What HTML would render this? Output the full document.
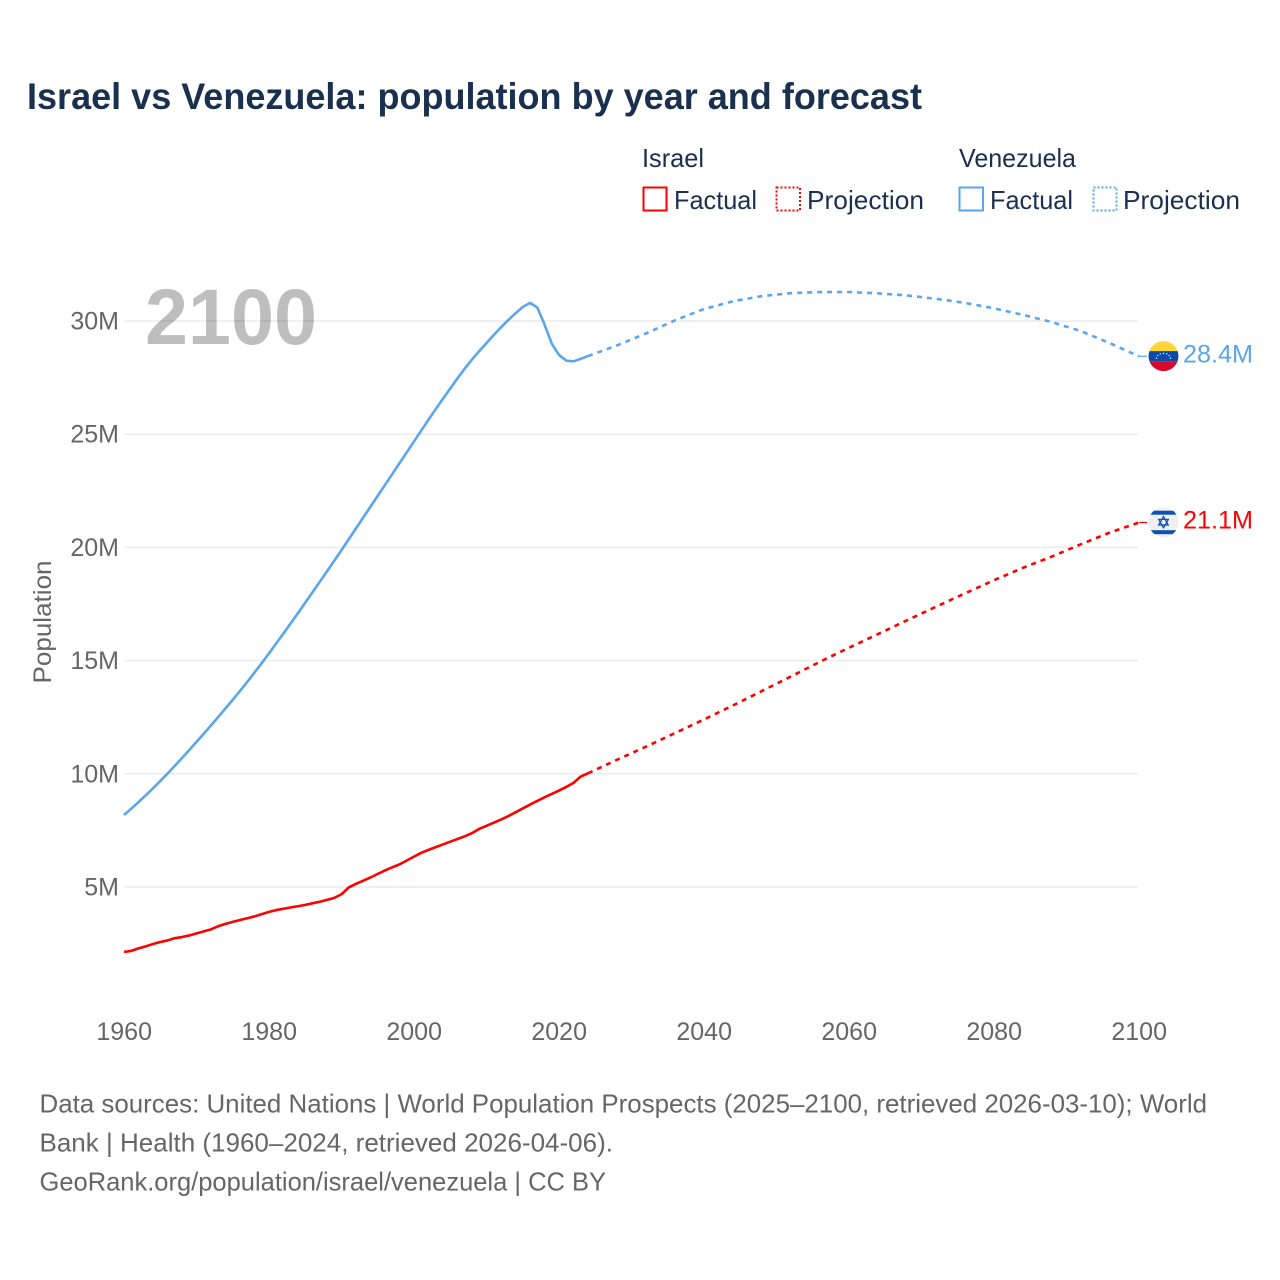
<!DOCTYPE html>
<html lang="en">
<head>
<meta charset="utf-8">
<title>Israel vs Venezuela: population by year and forecast</title>
<style>
html,body{margin:0;padding:0;background:#fff;width:1280px;height:1280px;overflow:hidden}
svg{display:block}
text{font-family:"Liberation Sans",Arial,sans-serif}
</style>
</head>
<body>
<svg id="chart" xmlns="http://www.w3.org/2000/svg" width="1280" height="1280" viewBox="0 0 1280 1280">
  <rect width="1280" height="1280" fill="#fff"/>
  <text x="27" y="109" font-size="37" font-weight="700" fill="#1a304f" textLength="895" lengthAdjust="spacingAndGlyphs">Israel vs Venezuela: population by year and forecast</text>

  <g font-size="26" fill="#1a304f">
    <text x="642" y="167" textLength="62" lengthAdjust="spacingAndGlyphs">Israel</text>
    <g>
      <rect x="643.5" y="187.5" width="23" height="23" fill="none" stroke="#ff0000" stroke-width="2"/>
      <text x="674" y="209" textLength="83" lengthAdjust="spacingAndGlyphs">Factual</text>
    </g>
    <g>
      <rect x="776.5" y="187.5" width="23.5" height="23" fill="none" stroke="#ff0000" stroke-width="2" stroke-dasharray="2,2"/>
      <text x="807" y="209" textLength="117" lengthAdjust="spacingAndGlyphs">Projection</text>
    </g>
    <text x="959" y="167" textLength="117" lengthAdjust="spacingAndGlyphs">Venezuela</text>
    <g>
      <rect x="959.5" y="187.5" width="23.5" height="23" fill="none" stroke="#5aa5ec" stroke-width="2"/>
      <text x="990" y="209" textLength="83" lengthAdjust="spacingAndGlyphs">Factual</text>
    </g>
    <g>
      <rect x="1093.5" y="187.5" width="23" height="23" fill="none" stroke="#5aa5ec" stroke-width="2" stroke-dasharray="2,2"/>
      <text x="1123" y="209" textLength="117" lengthAdjust="spacingAndGlyphs">Projection</text>
    </g>
  </g>

  <g id="grid"></g>
  <g id="yticks"></g>
  <g id="xticks"></g>
  <text transform="translate(51 622) rotate(-90)" text-anchor="middle" font-size="25" fill="#666" textLength="123" lengthAdjust="spacingAndGlyphs">Population</text>

  <text x="145" y="344" font-size="79" font-weight="700" fill="#000" fill-opacity="0.255" textLength="172" lengthAdjust="spacingAndGlyphs">2100</text>

  <g id="series"></g>

  <g id="flag-venezuela">
    <clipPath id="clip-ve"><circle cx="0" cy="0" r="15"/></clipPath>
    <g clip-path="url(#clip-ve)">
      <rect x="-15" y="-15" width="30" height="10" fill="#fdd43a"/>
      <rect x="-15" y="-5" width="30" height="10" fill="#0a4aa8"/>
      <rect x="-15" y="5" width="30" height="10" fill="#d8092f"/>
      <g fill="#fff">
        <circle cx="-7" cy="2" r=".7"/><circle cx="-5.6" cy="-.6" r=".7"/><circle cx="-3.3" cy="-2.2" r=".7"/><circle cx="0" cy="-2.8" r=".7"/><circle cx="3.3" cy="-2.2" r=".7"/><circle cx="5.6" cy="-.6" r=".7"/><circle cx="7" cy="2" r=".7"/>
      </g>
    </g>
  </g>
  <g id="flag-israel">
    <clipPath id="clip-il"><circle cx="0" cy="0" r="15"/></clipPath>
    <g clip-path="url(#clip-il)">
      <rect x="-15" y="-15" width="30" height="30" fill="#f0f0f0"/>
      <rect x="-15" y="-11.5" width="30" height="4" fill="#0b52b0"/>
      <rect x="-15" y="8" width="30" height="4" fill="#0b52b0"/>
      <polygon points="0,-5.6 4.8,2.8 -4.8,2.8" fill="none" stroke="#0b52b0" stroke-width="1.3"/>
      <polygon points="0,5.6 4.8,-2.8 -4.8,-2.8" fill="none" stroke="#0b52b0" stroke-width="1.3"/>
    </g>
  </g>
  <g id="endlabels"></g>

  <g font-size="26" fill="#666">
    <text x="39.5" y="1112.5" textLength="1167.5" lengthAdjust="spacingAndGlyphs">Data sources: United Nations | World Population Prospects (2025–2100, retrieved 2026-03-10); World</text>
    <text x="39.5" y="1151.5" textLength="573.5" lengthAdjust="spacingAndGlyphs">Bank | Health (1960–2024, retrieved 2026-04-06).</text>
    <text x="39.5" y="1190.5" textLength="566.5" lengthAdjust="spacingAndGlyphs">GeoRank.org/population/israel/venezuela | CC BY</text>
  </g>
</svg>
<script>
const xTickYears = [1960, 1980, 2000, 2020, 2040, 2060, 2080, 2100];
const yTickValues = [5, 10, 15, 20, 25, 30];
const yTickLabels = ['5M', '10M', '15M', '20M', '25M', '30M'];

const factualYears = [1960,1961,1962,1963,1964,1965,1966,1967,1968,1969,1970,1971,1972,1973,1974,1975,1976,1977,1978,1979,1980,1981,1982,1983,1984,1985,1986,1987,1988,1989,1990,1991,1992,1993,1994,1995,1996,1997,1998,1999,2000,2001,2002,2003,2004,2005,2006,2007,2008,2009,2010,2011,2012,2013,2014,2015,2016,2017,2018,2019,2020,2021,2022,2023,2024];
const projectionYears = [2024,2028,2032,2036,2040,2044,2048,2052,2056,2060,2064,2068,2072,2076,2080,2084,2088,2092,2096,2100];

const venezuelaFactual = [8.18,8.46,8.75,9.05,9.36,9.68,10.01,10.35,10.70,11.05,11.41,11.77,12.14,12.51,12.89,13.27,13.66,14.06,14.47,14.89,15.32,15.76,16.2,16.65,17.1,17.56,18.02,18.48,18.94,19.41,19.88,20.36,20.84,21.32,21.8,22.28,22.76,23.24,23.72,24.2,24.68,25.16,25.64,26.11,26.57,27.02,27.47,27.9,28.3,28.67,29.03,29.38,29.72,30.04,30.34,30.62,30.8,30.6,29.85,29.0,28.5,28.25,28.22,28.33,28.45];
const venezuelaProjection = [28.45,28.92,29.45,30.03,30.53,30.87,31.1,31.23,31.28,31.28,31.22,31.13,30.98,30.8,30.56,30.27,29.95,29.55,29.02,28.44];

const israelFactual = [2.13,2.18,2.29,2.38,2.48,2.57,2.64,2.74,2.79,2.86,2.95,3.04,3.13,3.27,3.37,3.46,3.54,3.62,3.7,3.8,3.9,3.98,4.04,4.1,4.15,4.21,4.28,4.35,4.43,4.52,4.68,4.98,5.14,5.28,5.42,5.58,5.73,5.87,6.0,6.17,6.34,6.51,6.64,6.76,6.88,7.0,7.12,7.24,7.38,7.57,7.7,7.84,7.98,8.13,8.3,8.47,8.64,8.8,8.96,9.11,9.26,9.42,9.6,9.88,10.02];
const israelProjection = [10.02,10.62,11.2,11.8,12.4,13.02,13.66,14.3,14.95,15.57,16.17,16.78,17.38,17.97,18.55,19.1,19.6,20.14,20.66,21.1];

const endLabelVenezuela = '28.4M';
const endLabelIsrael = '21.1M';

const NS = 'http://www.w3.org/2000/svg';
const xScale = function (year) { return 124 + (year - 1960) * 7.25; };
const yScale = function (v) { return 1000.2 - v * 22.64; };

function make(tag, parent, attrs) {
  const el = document.createElementNS(NS, tag);
  Object.keys(attrs).forEach(function (k) { el.setAttribute(k, attrs[k]); });
  parent.appendChild(el);
  return el;
}
function linePath(years, values) {
  return years.map(function (yr, i) {
    return (i ? 'L' : 'M') + xScale(yr).toFixed(2) + ' ' + yScale(values[i]).toFixed(2);
  }).join(' ');
}

const gridGroup = document.getElementById('grid');
const yTickGroup = document.getElementById('yticks');
const xTickGroup = document.getElementById('xticks');
const seriesGroup = document.getElementById('series');
const labelGroup = document.getElementById('endlabels');

yTickValues.forEach(function (v, i) {
  const g = make('line', gridGroup, { x1: 124, x2: 1138, y1: yScale(v), y2: yScale(v), stroke: '#ececec', 'stroke-width': 1.5 });
  
  
  const t = make('text', yTickGroup, { x: 119, y: yScale(v) + 8.5, 'text-anchor': 'end', 'font-size': 25, fill: '#666' });
  t.textContent = yTickLabels[i];
  
  
});

xTickYears.forEach(function (yr) {
  const t = make('text', xTickGroup, { x: xScale(yr) + 0.2, y: 1040, 'text-anchor': 'middle', 'font-size': 25, fill: '#666' });
  t.textContent = String(yr);
  
  
});

const veFactual = make('path', seriesGroup, { d: linePath(factualYears, venezuelaFactual), fill: 'none', stroke: '#5aa5ec', 'stroke-width': 2.6, 'stroke-linejoin': 'round' });



const veProjection = make('path', seriesGroup, { d: linePath(projectionYears, venezuelaProjection), fill: 'none', stroke: '#5aa5ec', 'stroke-width': 2.6, 'stroke-dasharray': '5,5' });



const ilFactual = make('path', seriesGroup, { d: linePath(factualYears, israelFactual), fill: 'none', stroke: '#ff0000', 'stroke-width': 2.6, 'stroke-linejoin': 'round' });



const ilProjection = make('path', seriesGroup, { d: linePath(projectionYears, israelProjection), fill: 'none', stroke: '#ff0000', 'stroke-width': 2.6, 'stroke-dasharray': '5,5' });



const veEndY = yScale(venezuelaProjection[venezuelaProjection.length - 1]);
const ilEndY = yScale(israelProjection[israelProjection.length - 1]);

const veLeader = make('line', seriesGroup, { x1: 1139, x2: 1147, y1: veEndY, y2: veEndY, stroke: '#5aa5ec', 'stroke-width': 1.2 });



const ilLeader = make('line', seriesGroup, { x1: 1139, x2: 1147, y1: ilEndY, y2: ilEndY, stroke: '#ff0000', 'stroke-width': 1.2 });



document.getElementById('flag-venezuela').setAttribute('transform', 'translate(1163.5 ' + (veEndY - 0.2) + ')');
document.getElementById('flag-israel').setAttribute('transform', 'translate(1163.5 ' + (ilEndY - 0.3) + ')');

const veLabel = make('text', labelGroup, { x: 1183, y: veEndY + 6, 'font-size': 25, fill: '#5aa5ec', textLength: 70, lengthAdjust: 'spacingAndGlyphs' });
veLabel.textContent = endLabelVenezuela;



const ilLabel = make('text', labelGroup, { x: 1183, y: ilEndY + 6, 'font-size': 25, fill: '#ff0000', textLength: 70, lengthAdjust: 'spacingAndGlyphs' });
ilLabel.textContent = endLabelIsrael;


</script>
</body>
</html>
